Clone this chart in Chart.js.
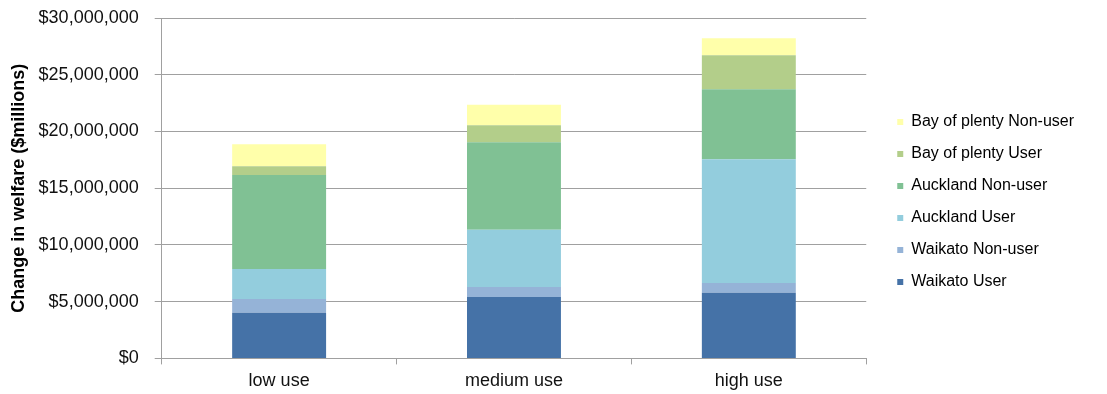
<!DOCTYPE html>
<html>
<head>
<meta charset="utf-8">
<script src="https://cdn.jsdelivr.net/npm/chart.js@4"></script>
<style>
  html, body { margin: 0; padding: 0; background: #fff; }
  #wrap { width: 1107px; height: 394px; }
</style>
</head>
<body>
<div id="wrap"><canvas id="welfareChart"></canvas></div>
<script>
// values in $ millions
const categories = ['low use', 'medium use', 'high use'];
const waikatoUser = [4.03, 5.41, 5.79];
const waikatoNonUser = [1.20, 0.88, 0.85];
const aucklandUser = [2.64, 5.04, 10.91];
const aucklandNonUser = [8.30, 7.71, 6.18];
const bopUser = [0.76, 1.50, 2.99];
const bopNonUser = [1.94, 1.82, 1.50];

const seriesNames = ['Waikato User', 'Waikato Non-user', 'Auckland User', 'Auckland Non-user', 'Bay of plenty User', 'Bay of plenty Non-user'];
const seriesValues = [waikatoUser, waikatoNonUser, aucklandUser, aucklandNonUser, bopUser, bopNonUser];
const seriesColors = ['#4572A7', '#95B3D7', '#93CDDD', '#80C194', '#B3CE8A', '#FFFFAA'];

const fontFamily = '"Liberation Sans", Arial, sans-serif';

// nudge the legend to the right after layout, so the plot keeps its width
const legendShift = {
    id: 'legendShift',
    afterLayout(chart) {
        const lg = chart.legend;
        if (!lg) return;
        lg.left += 15;
        lg.right += 15;
        lg.top += 5;
        lg.bottom += 5;
    }
};

function welfareChart(){
    const ctx = document.getElementById('welfareChart');
    new Chart(ctx, {
    type: 'bar',
    data: {
        labels: categories,
        datasets: seriesNames.map((name, i) => ({
            label: name,
            data: seriesValues[i].map(v => v * 1000000),
            backgroundColor: seriesColors[i],
            borderWidth: 0,
            barPercentage: 0.4,
            categoryPercentage: 1.0,
        }))
    },
    plugins: [legendShift],
    options: {
        responsive: true,
        maintainAspectRatio: false,
        animation: false,
        layout: {
            padding: {top: 0, right: 38, bottom: 0, left: 8}
        },
        scales: {
            x: {
                stacked: true,
                afterFit(scale) {
                    scale.height -= 4;
                },
                grid: {
                    display: true,
                    drawOnChartArea: false,
                    offset: true,
                    color: '#A0A0A0',
                    tickLength: 6,
                },
                border: {color: '#A0A0A0'},
                ticks: {
                    color: '#111',
                    font: {family: fontFamily, size: 18},
                    padding: 6,
                },
            },
            y: {
                stacked: true,
                min: 0,
                max: 30000000,
                afterFit(scale) {
                    scale.width -= 7;
                    scale.paddingTop = 18;
                },
                grid: {
                    color: '#A0A0A0',
                    tickLength: 7,
                },
                border: {color: '#A0A0A0'},
                ticks: {
                    stepSize: 5000000,
                    color: '#111',
                    padding: 16,
                    font: {family: fontFamily, size: 18},
                    callback: v => '$' + v.toLocaleString('en-US'),
                },
                title: {
                    display: true,
                    text: 'Change in welfare ($millions)',
                    color: '#000',
                    font: {family: fontFamily, size: 18, weight: 'bold'},
                    padding: 0,
                }
            },
        },
        plugins: {
            tooltip: {
                mode: 'index',
                intersect: false
            },
            legend: {
                position: 'right',
                reverse: true,
                labels: {
                    boxWidth: 6,
                    boxHeight: 6,
                    padding: 16,
                    color: '#000',
                    font: {family: fontFamily, size: 16},
                }
            }
        }
    },
    });
}

welfareChart();
</script>
</body>
</html>
